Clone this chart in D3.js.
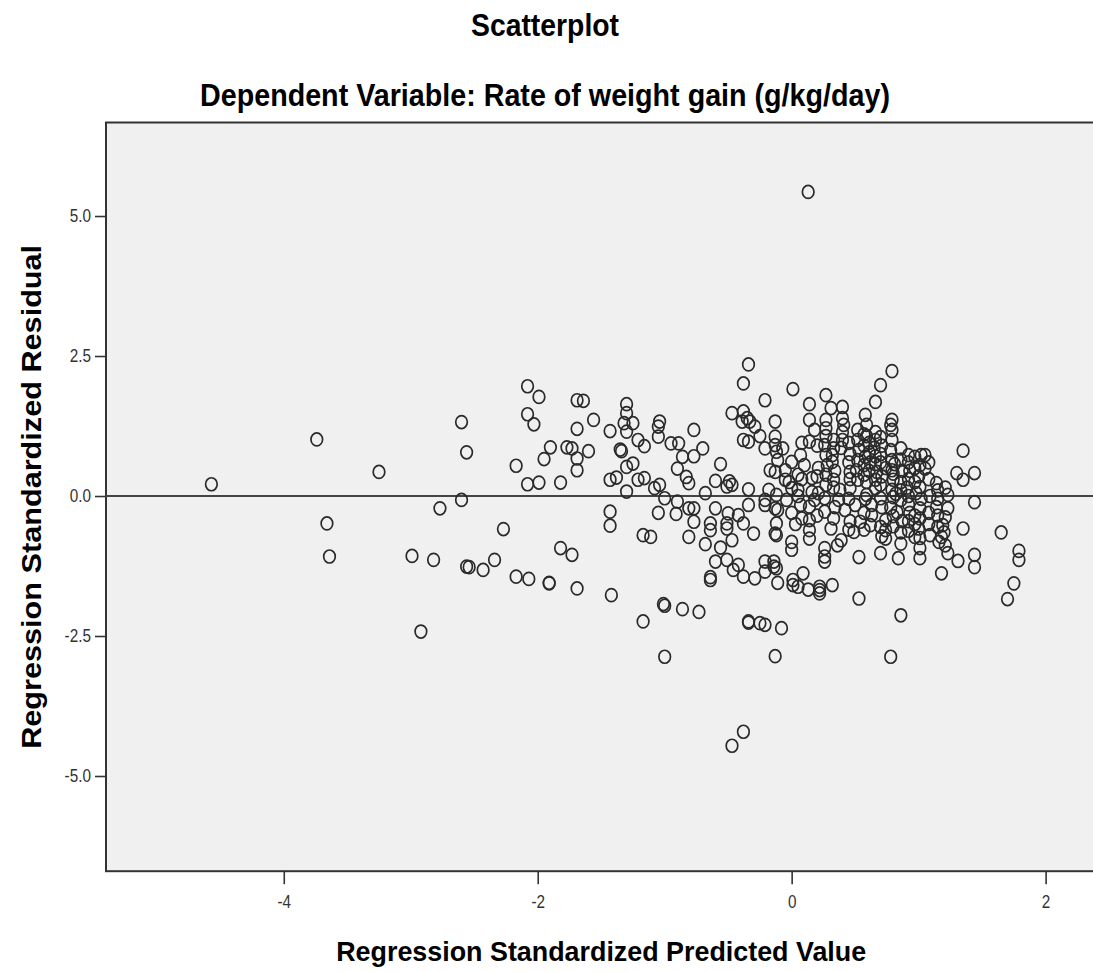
<!DOCTYPE html>
<html>
<head>
<meta charset="utf-8">
<script src="https://cdn.jsdelivr.net/npm/d3@7"></script>
<style>
  body { margin: 0; background: #fff; }
  svg { display: block; font-family: "Liberation Sans", Arial, sans-serif; }
</style>
</head>
<body>
<svg id="chart"></svg>
<script>
// chart values (predicted value, standardized residual)

var xTicks = [-4, -2, 0, 2];
var yTicks = [-5, -2.5, 0, 2.5, 5];

var leftPoints = [
  [-4.57,0.21],[-3.74,1.01],[-3.25,0.43],[-3.66,-0.49],[-3.64,-1.08],[-2.99,-1.07],[-2.82,-1.14],
  [-2.92,-2.42],[-2.77,-0.22],[-2.60,-0.07],[-2.60,1.32],[-2.56,0.78],[-2.56,-1.26],[-2.54,-1.27],
  [-2.43,-1.32],[-2.34,-1.14],[-2.27,-0.59],[-2.17,0.54],[-2.17,-1.44],[-2.07,-1.48],[-2.08,1.96],
  [-1.99,1.77],[-2.08,1.46],[-2.03,1.28],[-2.08,0.21],[-1.99,0.24],[-1.95,0.66],[-1.90,0.87],
  [-1.91,-1.55],[-1.91,-1.56],[-1.82,0.24],[-1.82,-0.93],[-1.73,-1.05],[-1.77,0.87],[-1.73,0.85],
  [-1.69,0.67],[-1.69,0.46],[-1.69,1.20],[-1.69,1.71],[-1.64,1.70],[-1.60,0.80],[-1.56,1.36],
  [-1.69,-1.65],[-1.43,1.16],[-1.43,0.29],[-1.38,0.33],[-1.43,-0.28],[-1.43,-0.53],[-1.42,-1.77],
  [-1.30,1.64],[-1.30,1.48],[-1.32,1.30],[-1.25,1.30],[-1.30,1.15],[-1.21,1.00],[-1.16,0.89],
  [-1.35,0.83],[-1.34,0.80],[-1.30,0.52],[-1.25,0.58],[-1.21,0.29],[-1.16,0.32],[-1.30,0.08],
  [-1.08,0.14],[-1.05,1.24],[-1.05,1.06],[-1.05,-0.30],[-1.17,-0.70],[-1.11,-0.73],[-1.17,-2.24],
  [-1.01,-1.93],[-1.00,-1.96],[-1.04,1.33],[-1.04,0.20],[-1.00,-0.04],[-1.00,-2.87]
];

var midPoints = [
  [-0.34,2.35],[-0.38,2.01],[-0.21,1.71],[-0.47,1.48],[-0.38,1.51],[-0.35,1.39],[-0.39,1.33],
  [-0.33,1.33],[-0.29,1.24],[-0.25,1.07],[-0.38,1.00],[-0.34,0.97],[-0.21,0.85],[-0.13,1.33],
  [-0.13,1.06],[-0.13,0.91],[-0.12,0.79],[-0.95,0.94],[-0.89,0.94],[-0.77,1.18],[-0.70,0.85],
  [-0.86,0.70],[-0.77,0.71],[-0.90,0.49],[-0.83,0.34],[-0.81,0.23],[-0.56,0.57],[-0.60,0.27],
  [-0.49,0.26],[-0.47,0.20],[-0.51,0.17],[-0.68,0.05],[-0.34,0.12],[-0.17,0.46],[-0.13,0.43],
  [-0.18,0.11],[-0.90,-0.10],[-0.91,-0.32],[-0.81,-0.22],[-0.77,-0.22],[-0.77,-0.46],[-0.60,-0.22],
  [-0.50,-0.31],[-0.64,-0.49],[-0.64,-0.61],[-0.51,-0.49],[-0.51,-0.58],[-0.42,-0.34],[-0.38,-0.49],
  [-0.34,-0.16],[-0.30,-0.67],[-0.21,-0.16],[-0.21,-0.07],[-0.13,-0.22],[-0.13,-0.67],[-0.81,-0.73],
  [-0.68,-0.86],[-0.56,-0.92],[-0.47,-0.79],[-0.60,-1.17],[-0.51,-1.14],[-0.46,-1.32],[-0.42,-1.23],
  [-0.38,-1.44],[-0.29,-1.47],[-0.21,-1.17],[-0.21,-1.35],[-0.14,-1.26],[-0.64,-1.45],[-0.64,-1.50],
  [-0.11,-1.55],[-0.86,-2.02],[-0.73,-2.07],[-0.34,-2.24],[-0.34,-2.26],[-0.25,-2.27],[-0.21,-2.30],
  [-0.08,-2.36],[-0.13,-2.86],[-0.38,-4.21],[-0.47,-4.46],[-0.12,-0.49],[-0.12,-0.70],[-0.14,-1.17],
  [-0.12,-1.29],[-0.07,0.85],[-0.05,0.46],[-0.11,0.64],[-0.05,0.29],[-0.04,-0.07],[-0.12,0.02],
  [-0.11,-0.25],[-0.02,0.25]
];

var clusterPoints = [
  [0.13,5.43],[0.01,1.91],[0.79,2.23],[0.70,1.98],[0.66,1.68],[0.58,1.45],[0.27,1.80],[0.14,1.64],
  [0.31,1.57],[0.40,1.59],[0.14,1.36],[0.14,0.97],[0.18,1.18],[0.78,1.27],[0.79,1.36],
  [0.27,1.36],[0.27,1.21],[0.27,1.07],[0.26,0.91],[0.27,0.73],[0.28,0.55],[0.27,0.38],[0.27,0.20],
  [0.40,1.39],[0.41,1.27],[0.40,1.14],[0.40,1.00],[0.39,0.86],[0.32,0.73],[0.32,0.61],
  [0.52,1.18],[0.52,1.00],[0.53,0.82],[0.52,0.64],[0.51,0.46],[0.52,0.29],
  [0.66,1.14],[0.66,1.00],[0.65,0.86],[0.66,0.71],[0.66,0.57],[0.67,0.43],[0.66,0.29],[0.66,0.14],
  [0.59,1.27],[0.59,1.07],
  [0.79,1.18],[0.79,1.00],[0.78,0.82],[0.79,0.64],[0.79,0.46],[0.80,0.29],[0.79,0.11],
  [0.00,0.61],[0.05,0.38],[0.10,0.55],[0.16,0.32],[0.21,0.50],[0.33,0.29],[0.46,0.43],[0.59,0.25],
  [0.74,0.50],[0.05,0.11],[0.16,0.07],[0.38,0.11],[0.46,0.14],[0.59,0.02],[0.70,-0.04],[0.82,0.04],
  [0.07,0.73],[0.00,0.14],[0.07,-0.16],[0.18,-0.07],[0.37,-0.07],[0.42,-0.25],[0.50,-0.16],
  [0.63,-0.16],[0.63,-0.34],[0.78,-0.21],[0.86,-0.07],[0.83,-0.29],
  [0.00,-0.82],[0.00,-0.96],[0.14,-0.19],[0.14,-0.43],[0.14,-0.61],[0.14,-0.76],[0.26,-0.04],
  [0.26,-0.28],[0.31,-0.58],[0.36,-0.88],[0.39,-0.79],[0.26,-0.93],[0.26,-1.08],[0.26,-1.17],
  [0.49,-0.64],[0.54,-0.46],[0.62,-0.52],[0.53,-1.09],[0.70,-1.02],[0.74,-0.43],[0.74,-0.61],
  [0.74,-0.76],[0.84,-1.11],[0.01,-1.50],[0.09,-1.38],[0.22,-1.62],[0.22,-1.74],[0.01,-1.59],
  [0.05,-1.62],[0.13,-1.67],[0.22,-1.68],[0.32,-1.59],[0.53,-1.83],[0.86,-2.13],[0.78,-2.87],
  [0.80,-0.02],[0.80,-0.36],[0.80,-0.54],[0.81,0.57],[0.80,0.40]
];

var densePoints = [
  [0.33,1.00],[0.33,0.85],[0.34,0.45],[0.33,0.15],[0.34,-0.20],[0.33,-0.40],
  [0.45,0.95],[0.46,0.75],[0.45,0.60],[0.46,0.30],[0.45,-0.05],[0.46,-0.45],[0.45,-0.60],
  [0.57,1.10],[0.57,0.90],[0.58,0.70],[0.57,0.55],[0.57,0.38],[0.58,-0.05],[0.57,-0.30],[0.57,-0.60],
  [0.61,0.95],[0.61,0.78],[0.62,0.60],[0.61,0.45],
  [0.70,1.05],[0.71,0.90],[0.70,0.75],[0.70,0.60],[0.71,0.35],[0.70,0.20],[0.71,-0.20],[0.70,-0.55],
  [0.71,-0.72],[0.86,0.85],[0.86,0.65],[0.87,0.45],[0.86,0.25],[0.86,0.10],[0.87,-0.45],[0.86,-0.65],
  [0.86,-0.85],[0.97,0.70],[0.97,0.50],[0.97,0.25],[0.98,0.05],[0.97,-0.35],[0.97,-0.50],
  [1.08,0.60],[1.08,0.30],[1.09,0.00],[1.08,-0.30],[1.08,-0.50],[1.09,-0.70],
  [0.20,0.90],[0.20,0.35],[0.21,0.05],[0.20,-0.35],[0.08,0.30],[0.08,-0.40],[0.08,0.95],
  [0.00,-0.30],[0.03,-0.50],[0.05,0.00]
];

var rightPoints = [
  [0.92,0.73],[1.02,0.73],[1.05,0.73],[1.05,0.49],[1.14,0.23],[1.23,0.02],[1.23,-0.22],[1.19,-0.52],
  [1.18,-0.73],[1.01,-0.93],[0.97,-0.73],[1.35,0.81],[1.30,0.41],[1.35,0.29],[1.44,0.41],[1.44,-0.11],
  [1.35,-0.58],[1.65,-0.65],[1.79,-0.98],[1.79,-1.14],[1.75,-1.56],[1.70,-1.84],[1.44,-1.05],
  [1.44,-1.27],[1.31,-1.16],[1.23,-1.02],[1.18,-1.38],[1.01,-1.11],
  [0.92,0.60],[0.93,0.45],[0.92,0.30],[0.91,0.15],[0.92,0.00],[0.92,-0.15],[0.93,-0.30],[0.92,-0.45],
  [0.92,-0.62],[1.01,0.55],[1.00,0.35],[1.01,0.16],[1.02,-0.05],[1.01,-0.22],[1.01,-0.40],
  [1.00,-0.58],[1.01,-0.75],[1.15,0.10],[1.15,-0.05],[1.14,-0.20],[1.15,-0.35],[1.15,-0.55],
  [1.16,-0.82],[1.21,0.15],[1.21,-0.38],[1.20,-0.65],[1.21,-0.88]
];

var allPoints = leftPoints.concat(midPoints, clusterPoints, densePoints, rightPoints);

var width = 1093;
var height = 972;
var plotLeft = 106;
var plotRight = 1096.4;
var plotTop = 122.5;
var plotBottom = 871.2;

var svg = d3.select('#chart')
  .attr('width', width)
  .attr('height', height);

var xScale = d3.scaleLinear()
  .domain([-5.4, 2.4])
  .range([plotLeft, plotRight]);

var yScale = d3.scaleLinear()
  .domain([-6.7, 6.67])
  .range([plotBottom, plotTop]);

// plot background and frame
svg.append('rect')
  .attr('x', plotLeft)
  .attr('y', plotTop)
  .attr('width', plotRight - plotLeft + 10)
  .attr('height', plotBottom - plotTop)
  .attr('fill', '#f0f0f0')
  .attr('stroke', '#333')
  .attr('stroke-width', 2);

// reference line at zero
svg.append('line')
  .attr('x1', plotLeft)
  .attr('x2', width)
  .attr('y1', yScale(0))
  .attr('y2', yScale(0))
  .attr('stroke', '#444')
  .attr('stroke-width', 2);

// points
svg.append('g')
  .selectAll('ellipse')
  .data(allPoints)
  .enter()
  .append('ellipse')
    .attr('cx', d => xScale(d[0]))
    .attr('cy', d => yScale(d[1]))
    .attr('rx', 5.8)
    .attr('ry', 6.5)
    .attr('fill', 'none')
    .attr('stroke', '#2a2a2a')
    .attr('stroke-width', 1.7);

// axes
var xAxis = d3.axisBottom(xScale)
  .tickValues(xTicks)
  .tickSize(13)
  .tickPadding(11)
  .tickFormat(d => String(d));

var yAxis = d3.axisLeft(yScale)
  .tickValues(yTicks)
  .tickSize(11)
  .tickPadding(4)
  .tickFormat(d => d.toFixed(1));

var gx = svg.append('g')
  .attr('transform', `translate(0,${plotBottom})`)
  .call(xAxis);

var gy = svg.append('g')
  .attr('transform', `translate(${plotLeft},0)`)
  .call(yAxis);

[gx, gy].forEach(g => {
  g.select('.domain').remove();
  g.selectAll('.tick line').attr('stroke', '#333').attr('stroke-width', 1.6);
  g.selectAll('.tick text')
    .attr('fill', '#333')
    .style('font-size', '18px')
    .style('font-family', '"Liberation Sans", Arial, sans-serif');
});
gx.selectAll('.tick text').each(function () {
  d3.select(this).attr('textLength', this.getComputedTextLength() * 0.85)
    .attr('lengthAdjust', 'spacingAndGlyphs');
});
gy.selectAll('.tick text').each(function () {
  d3.select(this).attr('textLength', this.getComputedTextLength() * 0.85)
    .attr('lengthAdjust', 'spacingAndGlyphs');
});

// titles
svg.append('text')
  .attr('x', 545)
  .attr('y', 36)
  .attr('text-anchor', 'middle')
  .attr('font-weight', 'bold')
  .attr('font-size', 31)
  .attr('textLength', 148)
  .attr('lengthAdjust', 'spacingAndGlyphs')
  .text('Scatterplot');

svg.append('text')
  .attr('x', 545)
  .attr('y', 106)
  .attr('text-anchor', 'middle')
  .attr('font-weight', 'bold')
  .attr('font-size', 30.5)
  .attr('textLength', 690)
  .attr('lengthAdjust', 'spacingAndGlyphs')
  .text('Dependent Variable: Rate of weight gain (g/kg/day)');

svg.append('text')
  .attr('x', (plotLeft + plotRight) / 2)
  .attr('y', 961)
  .attr('text-anchor', 'middle')
  .attr('font-weight', 'bold')
  .attr('font-size', 28)
  .attr('textLength', 530)
  .attr('lengthAdjust', 'spacingAndGlyphs')
  .text('Regression Standardized Predicted Value');

svg.append('text')
  .attr('transform', `translate(41,${(plotTop + plotBottom) / 2}) rotate(-90)`)
  .attr('text-anchor', 'middle')
  .attr('font-weight', 'bold')
  .attr('font-size', 28)
  .attr('textLength', 504)
  .attr('lengthAdjust', 'spacingAndGlyphs')
  .text('Regression Standardized Residual');
</script>
</body>
</html>
